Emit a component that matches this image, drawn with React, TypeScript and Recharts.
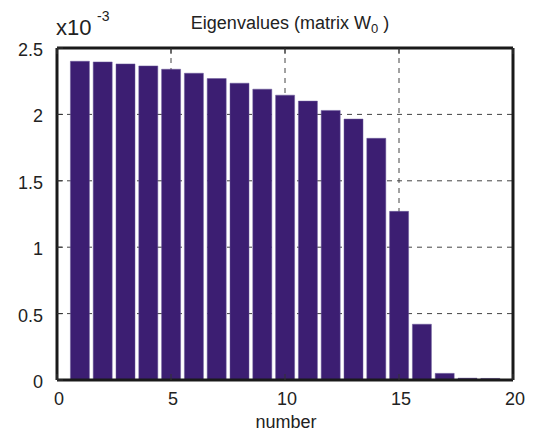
import { ComposedChart, Bar, XAxis, YAxis, CartesianGrid } from 'recharts';

const numbers = [1, 2, 3, 4, 5, 6, 7, 8, 9, 10, 11, 12, 13, 14, 15, 16, 17, 18, 19];
const eigenvalues = [2.4, 2.395, 2.38, 2.365, 2.34, 2.31, 2.27, 2.235, 2.19, 2.145, 2.1, 2.03, 1.965, 1.82, 1.27, 0.42, 0.05, 0.014, 0.012];
const xTicks = [0, 5, 10, 15, 20];
const yTicks = [0, 0.5, 1, 1.5, 2, 2.5];

const data = numbers.map((n, i) => ({ n, v: eigenvalues[i] }));

const FONT = '"Liberation Sans", Arial, sans-serif';
const AXIS = '#1a1a1a';
const TEXT = '#222';

const BottomTick = (props: any) => {
    const { x, y, payload } = props;
    return (
        <g>
            <line x1={x} y1={y} x2={x} y2={y - 6} stroke="#333" strokeWidth={1} />
            <text x={x + 2} y={y + 25} textAnchor="middle" fontSize={18} fill={TEXT} fontFamily={FONT}>
                {payload.value}
            </text>
        </g>
    );
};

const TopTick = (props: any) => {
    const { x, y } = props;
    return <line x1={x} y1={y} x2={x} y2={y + 6} stroke="#333" strokeWidth={1} />;
};

const LeftTick = (props: any) => {
    const { x, y, payload } = props;
    return (
        <g>
            <line x1={x} y1={y} x2={x + 6} y2={y} stroke="#333" strokeWidth={1} />
            <text x={x - 14} y={y + 8} textAnchor="end" fontSize={18} fill={TEXT} fontFamily={FONT}>
                {payload.value}
            </text>
        </g>
    );
};

const RightTick = (props: any) => {
    const { x, y } = props;
    return <line x1={x} y1={y} x2={x - 6} y2={y} stroke="#333" strokeWidth={1} />;
};

export default function App() {
    return (
        <div style={{ position: 'absolute', left: 0, top: 0, width: 539, height: 432, background: '#fff' }}>
            <ComposedChart
                width={539}
                height={432}
                data={data}
                margin={{ top: 47, right: 25, left: 0, bottom: 51 }}
            >
                <CartesianGrid
                    xAxisId="b"
                    yAxisId="l"
                    stroke="#444"
                    strokeDasharray="5 5"
                    horizontalValues={[0.5, 1, 1.5, 2]}
                    verticalValues={[5, 10, 15]}
                />
                <Bar
                    xAxisId="b"
                    yAxisId="l"
                    dataKey="v"
                    fill="#3c1e72"
                    stroke="#6a5a9a"
                    strokeWidth={0.5}
                    barSize={19}
                    isAnimationActive={false}
                />
                <XAxis
                    xAxisId="b"
                    dataKey="n"
                    type="number"
                    domain={[0, 20]}
                    ticks={xTicks}
                    height={1}
                    tickSize={0}
                    tickMargin={0}
                    tickLine={false}
                    tick={<BottomTick />}
                    stroke={AXIS}
                    strokeWidth={3}
                    axisLine
                    allowDataOverflow
                />
                <XAxis
                    xAxisId="t"
                    orientation="top"
                    dataKey="n"
                    type="number"
                    domain={[0, 20]}
                    ticks={xTicks}
                    height={1}
                    tickSize={0}
                    tickMargin={0}
                    tickLine={false}
                    tick={<TopTick />}
                    stroke={AXIS}
                    strokeWidth={3}
                    axisLine
                />
                <YAxis
                    yAxisId="l"
                    type="number"
                    domain={[0, 2.5]}
                    ticks={yTicks}
                    width={57}
                    tickSize={0}
                    tickMargin={0}
                    tickLine={false}
                    tick={<LeftTick />}
                    stroke={AXIS}
                    strokeWidth={3}
                    axisLine
                    allowDataOverflow
                />
                <YAxis
                    yAxisId="r"
                    orientation="right"
                    type="number"
                    domain={[0, 2.5]}
                    ticks={yTicks}
                    width={1}
                    tickSize={0}
                    tickMargin={0}
                    tickLine={false}
                    tick={<RightTick />}
                    stroke={AXIS}
                    strokeWidth={3}
                    axisLine
                />
            </ComposedChart>
            <svg width={539} height={432} style={{ position: 'absolute', left: 0, top: 0, pointerEvents: 'none' }} fontFamily={FONT} fill={TEXT}>
                <text x={56} y={35} fontSize={22}>x10</text>
                <text x={97} y={21} fontSize={14}>-3</text>
                <text x={290} y={29} fontSize={18} textAnchor="middle">
                    Eigenvalues (matrix W<tspan fontSize={13} dy={4}>0</tspan><tspan dy={-4}> )</tspan>
                </text>
                <text x={286} y={428} fontSize={18} textAnchor="middle">number</text>
            </svg>
        </div>
    );
}
